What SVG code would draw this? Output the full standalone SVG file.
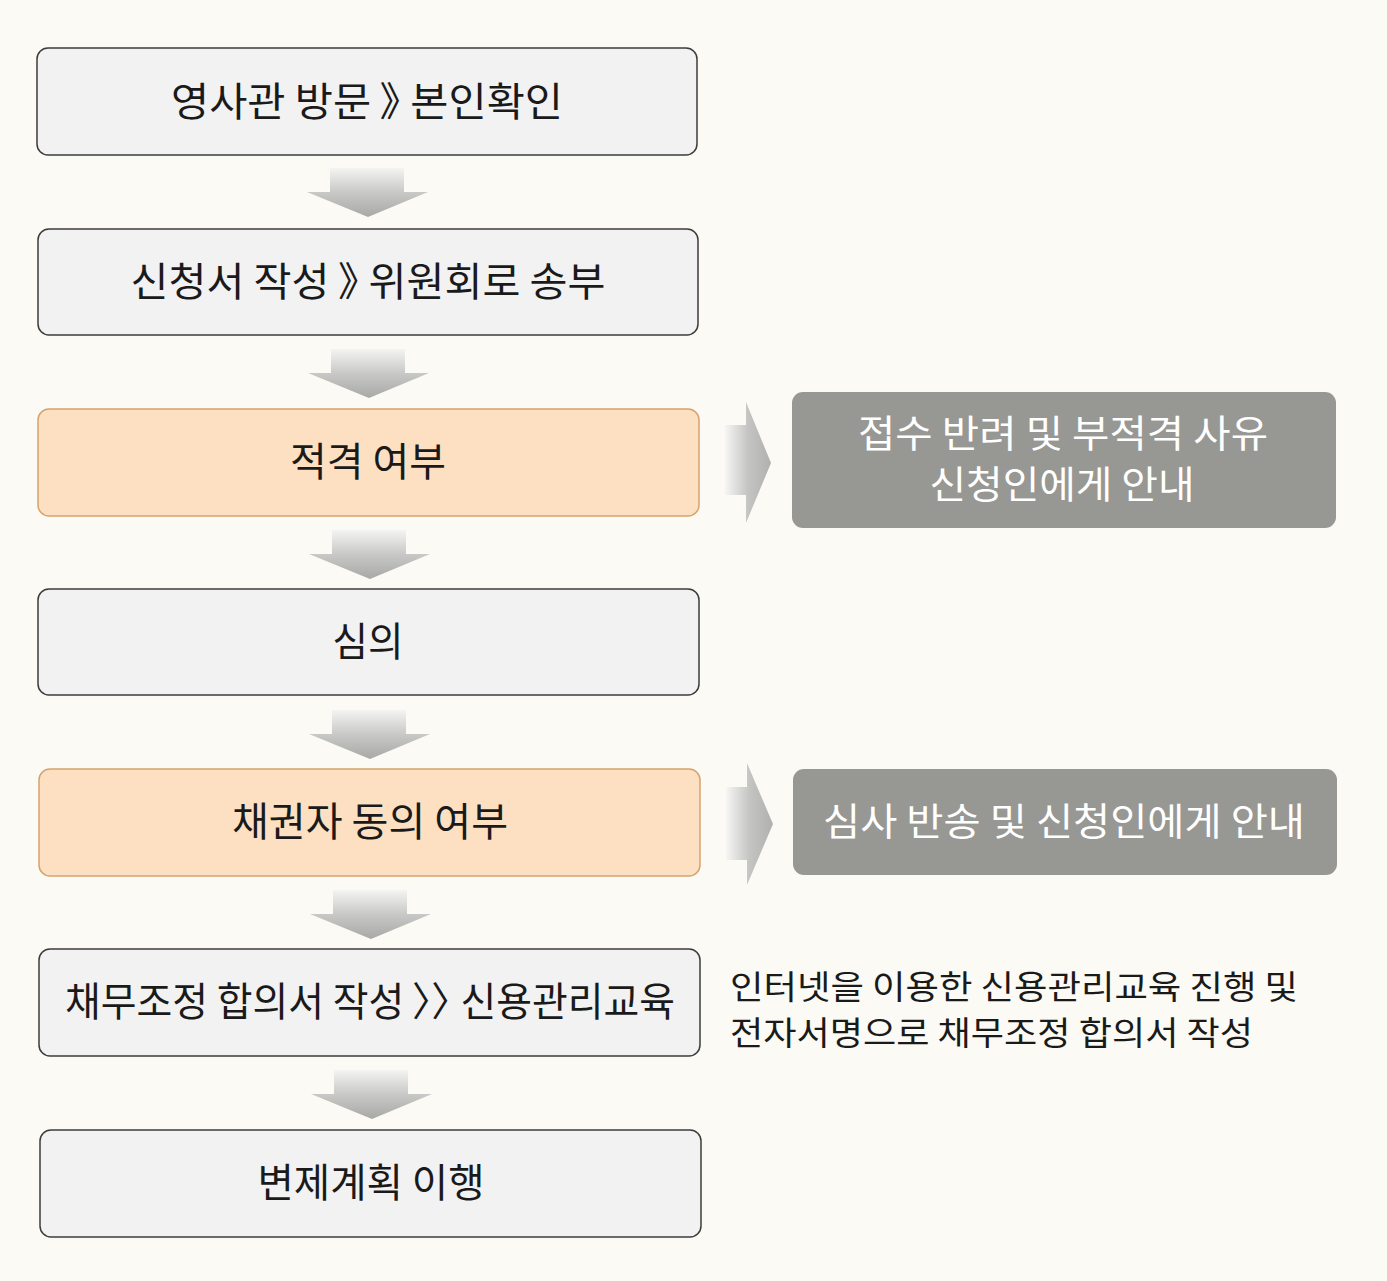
<svg xmlns="http://www.w3.org/2000/svg" width="1387" height="1281" viewBox="0 0 1387 1281">
<defs>
<linearGradient id="gdown" x1="0" y1="0" x2="0" y2="1">
<stop offset="0" stop-color="#f4f4f2"/>
<stop offset="0.5" stop-color="#c8c8c6"/>
<stop offset="1" stop-color="#a8a8a6"/>
</linearGradient>
<linearGradient id="gright" x1="0" y1="0" x2="1" y2="0">
<stop offset="0" stop-color="#f6f6f4"/>
<stop offset="0.5" stop-color="#c4c4c2"/>
<stop offset="1" stop-color="#b0b0ae"/>
</linearGradient>
<style>
.box{fill:#f2f2f2;stroke:#3c3c3c;stroke-width:1.5}
.obox{fill:#fddfc1;stroke:#d6a36e;stroke-width:1.5}
.gbox{fill:#979793}
.t{font-family:"Noto Sans CJK KR","Noto Sans",sans-serif;font-size:40px;fill:#1a1a1a;text-anchor:middle;font-feature-settings:"palt"}
.w{font-family:"Noto Sans CJK KR","Noto Sans",sans-serif;font-size:38px;fill:#ffffff;text-anchor:middle}
.s{font-family:"Noto Sans CJK KR","Noto Sans",sans-serif;font-size:33px;fill:#1a1a1a}
.da{fill:url(#gdown)}
.ra{fill:url(#gright)}
</style>
</defs>
<rect x="0" y="0" width="1387" height="1281" fill="#fcfaf4"/>
<g id="connectors">
<path class="da" d="M330,168 H404 V192 H428 L368,217 L307,192 H330 Z"/>
<path class="da" d="M331,349 H405 V373 H429 L369,398 L308,373 H331 Z"/>
<path class="da" d="M332,530 H406 V554 H430 L370,579 L309,554 H332 Z"/>
<path class="da" d="M332,710 H406 V734 H430 L370,759 L309,734 H332 Z"/>
<path class="da" d="M333,890 H407 V914 H431 L371,939 L310,914 H333 Z"/>
<path class="da" d="M334,1070 H408 V1094 H432 L372,1119 L311,1094 H334 Z"/>
<path class="ra" d="M725,425 H746 V402 L771,463 L746,523 V495 H725 Z"/>
<path class="ra" d="M726,787 H747 V763 L773,824 L747,885 V860 H726 Z"/>
</g>
<g id="n1"><rect class="box" x="37" y="48" width="660" height="107" rx="11"/>
<text class="t" x="367" y="116" textLength="392" lengthAdjust="spacingAndGlyphs">영사관 방문 》 본인확인</text></g>
<g id="n2"><rect class="box" x="38" y="229" width="660" height="106" rx="11"/>
<text class="t" x="368" y="296" textLength="475" lengthAdjust="spacingAndGlyphs">신청서 작성 》 위원회로 송부</text></g>
<g id="n3"><rect class="obox" x="38" y="409" width="661" height="107" rx="11"/>
<text class="t" x="368" y="476" textLength="156" lengthAdjust="spacingAndGlyphs">적격 여부</text></g>
<g id="n4"><rect class="box" x="38" y="589" width="661" height="106" rx="11"/>
<text class="t" x="368" y="656" textLength="71" lengthAdjust="spacingAndGlyphs">심의</text></g>
<g id="n5"><rect class="obox" x="39" y="769" width="661" height="107" rx="11"/>
<text class="t" x="370" y="836" textLength="276" lengthAdjust="spacingAndGlyphs">채권자 동의 여부</text></g>
<g id="n6"><rect class="box" x="39" y="949" width="661" height="107" rx="11"/>
<text class="t" x="370" y="1016" textLength="610" lengthAdjust="spacingAndGlyphs">채무조정 합의서 작성 〉〉 신용관리교육</text></g>
<g id="n7"><rect class="box" x="40" y="1130" width="661" height="107" rx="11"/>
<text class="t" x="371" y="1197" textLength="227" lengthAdjust="spacingAndGlyphs">변제계획 이행</text></g>
<g id="r1"><rect class="gbox" x="792" y="392" width="544" height="136" rx="11"/>
<text class="w" x="1063" y="447" textLength="410" lengthAdjust="spacingAndGlyphs">접수 반려 및 부적격 사유</text>
<text class="w" x="1062" y="498" textLength="265" lengthAdjust="spacingAndGlyphs">신청인에게 안내</text></g>
<g id="r2"><rect class="gbox" x="793" y="769" width="544" height="106" rx="11"/>
<text class="w" x="1064" y="835" textLength="482" lengthAdjust="spacingAndGlyphs">심사 반송 및 신청인에게 안내</text></g>
<g id="note">
<text class="s" x="730" y="999" textLength="568" lengthAdjust="spacingAndGlyphs">인터넷을 이용한 신용관리교육 진행 및</text>
<text class="s" x="730" y="1045" textLength="523" lengthAdjust="spacingAndGlyphs">전자서명으로 채무조정 합의서 작성</text>
</g>
</svg>
